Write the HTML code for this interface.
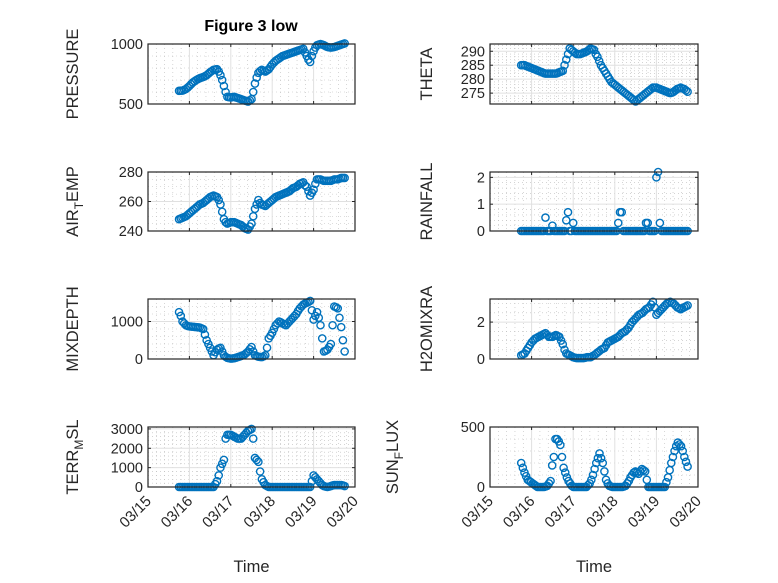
<!DOCTYPE html>
<html><head><meta charset="utf-8"><style>
body{margin:0;background:#fff}
svg{display:block;font-family:"Liberation Sans","DejaVu Sans",sans-serif}
</style></head><body>
<svg id="fig" width="778" height="583" viewBox="0 0 778 583"></svg>
<script>
// hourly samples, start/end in days since 03/15
const tStart=0.75, tEnd=4.75;
const xTickLabels=["03/15","03/16","03/17","03/18","03/19","03/20"];
const pressure=[610,611,612,618,625,637,650,665,680,690,700,708,715,720,725,732,740,752,765,775,785,788,790,770,740,700,650,600,560,557,555,558,560,555,550,545,540,535,530,525,520,530,540,600,670,720,760,775,785,778,770,780,790,810,830,845,860,870,880,890,900,905,910,915,920,925,930,935,940,945,950,955,960,930,900,870,850,900,940,970,990,995,1000,995,990,982,975,972,970,972,975,980,985,990,995,1000,1005];
const airTemp=[248,248.5,249,249.5,250,251,252,253,254,255,256,257,258,258.5,259,260,261,262,263,263.5,264,263.5,263,261,258,253,248,246,245,245.5,246,246,246,245.5,245,244.5,244,243,242,241.5,241,243,245,250,255,258,261,259,258,257.5,257,258,259,260,261,262,263,263.5,264,264.5,265,265.5,266,266.5,267,268,269,269.5,270,271,272,272.5,273,271,270,267,264,266,268,272,275,275,275,274.5,274,274,274,274,274,274.5,275,275,275,275.5,276,276,276];
const theta=[285,285,285,284.7,284.5,284.2,284,283.7,283.5,283.2,283,282.7,282.5,282.2,282,282,282,282,282,282,282,282.2,282.5,282.7,283,285,287,289,291,290.5,290,289.5,289,289,289,289.2,289.5,289.7,290,290.5,291,290.7,290.5,289,288,286.5,285,284,283,282,281,280,279,278.5,278,277.5,277,276.5,276,275.5,275,274.5,274,273.5,273,272.5,272,272.5,273,273.5,274,274.5,275,275.5,276,276.5,277,277,277,276.7,276.5,276.2,276,275.7,275.5,275.2,275,275.2,275.5,276,276.5,276.7,277,276.7,276.5,276,275.5];
const rainfall=[0,0,0,0,0,0,0,0,0,0, 0,0,0,0,0.5,0,0,0,0.2,0, 0,0,0,0,0,0,0.4,0.7,0,0, 0.3,0,0,0,0,0,0,0,0,0, 0,0,0,0,0,0,0,0,0,0, 0,0,0,0,0,0,0.3,0.7,0.7,0, 0,0,0,0,0,0,0,0,0,0, 0,0,0.3,0.3,0,0,0,0,2.0,2.2, 0.3,0,0,0,0,0,0,0,0,0, 0,0,0,0,0,0,0];
const mixDepth=[1250,1150,1000,950,900,880,870,865,860,855,850,845,840,820,800,650,500,400,300,200,100,180,250,280,300,200,100,60,30,20,10,15,20,35,50,65,80,100,120,160,200,260,320,200,100,80,60,55,50,70,100,300,550,620,700,800,900,950,1000,980,950,920,900,950,1000,1050,1100,1150,1200,1280,1350,1400,1450,1480,1500,1520,1550,1300,1050,1150,1250,1100,900,550,200,220,250,320,400,900,1400,1380,1350,1100,850,500,200];
const h2o=[0.2,0.25,0.3,0.45,0.6,0.75,0.9,1.0,1.1,1.15,1.2,1.25,1.3,1.35,1.4,1.3,1.2,1.2,1.2,1.25,1.3,1.25,1.2,1.0,0.8,0.5,0.3,0.25,0.2,0.15,0.1,0.07,0.05,0.05,0.05,0.05,0.05,0.07,0.1,0.1,0.1,0.15,0.2,0.27,0.35,0.42,0.5,0.55,0.6,0.75,0.9,0.95,1.0,1.05,1.1,1.15,1.2,1.3,1.4,1.45,1.5,1.6,1.7,1.85,2.0,2.1,2.2,2.3,2.4,2.45,2.5,2.6,2.7,2.75,2.8,2.95,3.1,2.8,2.4,2.5,2.6,2.7,2.8,2.9,3.0,3.05,3.1,3.05,3.0,2.9,2.8,2.75,2.7,2.75,2.8,2.85,2.9];
const terrMsl=[0,0,0,0,0,0,0,0,0,0,0,0,0,0,0,0,0,0,0,0,0,150,300,600,1000,1200,1400,2500,2700,2700,2700,2650,2600,2550,2500,2500,2500,2600,2700,2800,2900,2950,3000,2500,1500,1400,1300,800,400,250,100,50,0,0,0,0,0,0,0,0,0,0,0,0,0,0,0,0,0,0,0,0,0,0,0,0,0,300,600,500,400,300,200,100,50,20,0,20,50,80,100,100,100,100,100,80,50];
const sunFlux=[200,160,120,90,60,50,40,30,20,10,0,0,0,0,0,5,10,30,50,180,250,400,400,380,350,250,160,120,80,50,30,10,0,0,0,0,0,0,0,0,0,15,30,60,100,150,200,240,280,240,200,130,60,30,10,5,0,0,0,0,0,0,0,5,10,30,50,80,100,120,130,120,110,130,150,140,130,60,0,0,0,0,0,0,0,0,0,0,0,40,80,140,200,250,300,340,370,355,340,300,250,210,170];

const NS="http://www.w3.org/2000/svg";
const svg=document.getElementById('fig');
function mk(tag,attrs,parent){const e=document.createElementNS(NS,tag);for(const k in attrs)e.setAttribute(k,attrs[k]);(parent||svg).appendChild(e);return e;}

const panels=[
 {name:'pressure',vals:pressure,x0:148,x1:355,y0:44,y1:104,ymin:500,ymax:1000,ticks:[500,1000],minor:100,label:'PRESSURE',lx:78},
 {name:'theta',vals:theta,x0:490,x1:698,y0:44,y1:104,ymin:271.1,ymax:292.6,ticks:[275,280,285,290],minor:1,label:'THETA',lx:432},
 {name:'air-temp',vals:airTemp,x0:148,x1:355,y0:172,y1:231,ymin:240,ymax:280,ticks:[240,260,280],minor:5,label:'AIR_TEMP',sub:'T',lx:78},
 {name:'rainfall',vals:rainfall,x0:490,x1:698,y0:172,y1:231,ymin:0,ymax:2.2,ticks:[0,1,2],minor:0.2,label:'RAINFALL',lx:432},
 {name:'mixdepth',vals:mixDepth,x0:148,x1:355,y0:299,y1:359,ymin:0,ymax:1600,ticks:[0,1000],minor:200,label:'MIXDEPTH',lx:78},
 {name:'h2omixra',vals:h2o,x0:490,x1:698,y0:299,y1:359,ymin:0,ymax:3.25,ticks:[0,2],minor:0.5,label:'H2OMIXRA',lx:432},
 {name:'terr-msl',vals:terrMsl,x0:148,x1:355,y0:427,y1:487,ymin:0,ymax:3100,ticks:[0,1000,2000,3000],minor:200,label:'TERR_MSL',sub:'M',lx:78,xl:true},
 {name:'sun-flux',vals:sunFlux,x0:490,x1:698,y0:427,y1:487,ymin:0,ymax:500,ticks:[0,500],minor:100,label:'SUN_FLUX',sub:'F',lx:398,xl:true}
];

panels.forEach(p=>{
 const g=mk('g',{});
 
 
 const xs=d=>p.x0+(d/5)*(p.x1-p.x0);
 const ys=v=>p.y1-(v-p.ymin)/(p.ymax-p.ymin)*(p.y1-p.y0);
 mk('rect',{x:p.x0,y:p.y0,width:p.x1-p.x0,height:p.y1-p.y0,fill:'#fff'},g);
 for(let d=0;d<5;d+=0.2){if(Math.abs(d-Math.round(d))<1e-6)continue;const x=xs(d);mk('line',{x1:x,x2:x,y1:p.y0,y2:p.y1,stroke:'#bbb','stroke-width':0.6,'stroke-dasharray':'1,3'},g);}
 for(let v=Math.ceil(p.ymin/p.minor)*p.minor;v<p.ymax;v+=p.minor){if(p.ticks.some(t=>Math.abs(t-v)<1e-6))continue;const y=ys(v);mk('line',{x1:p.x0,x2:p.x1,y1:y,y2:y,stroke:'#bbb','stroke-width':0.6,'stroke-dasharray':'1,3'},g);}
 for(let d=1;d<5;d++){const x=xs(d);mk('line',{x1:x,x2:x,y1:p.y0,y2:p.y1,stroke:'#e0e0e0','stroke-width':1},g);}
 p.ticks.forEach(t=>{const y=ys(t);mk('line',{x1:p.x0,x2:p.x1,y1:y,y2:y,stroke:'#e0e0e0','stroke-width':1},g);
   const tl=mk('text',{x:p.x0-5,y:y+5,'text-anchor':'end','font-size':14.5,fill:'#262626'},g);tl.textContent=t;
   
   
   mk('line',{x1:p.x0,x2:p.x0+3,y1:y,y2:y,stroke:'#262626'},g);mk('line',{x1:p.x1,x2:p.x1-3,y1:y,y2:y,stroke:'#262626'},g);});
 for(let d=0;d<=5;d++){const x=xs(d);mk('line',{x1:x,x2:x,y1:p.y1,y2:p.y1-3,stroke:'#262626'},g);mk('line',{x1:x,x2:x,y1:p.y0,y2:p.y0+3,stroke:'#262626'},g);
   if(p.xl){const tl=mk('text',{x:x+4,y:p.y1+15,'text-anchor':'end','font-size':15,fill:'#262626',transform:`rotate(-45 ${x+4} ${p.y1+15})`},g);tl.textContent=xTickLabels[d];
   
   }}
 const n=p.vals.length;
 p.vals.forEach((v,i)=>{const t=tStart+i*(tEnd-tStart)/(n-1);
   const c=mk('circle',{cx:xs(t),cy:ys(v),r:3.6,fill:'none',stroke:'#0072BD','stroke-width':1.4},g);
   
   });
 mk('rect',{x:p.x0,y:p.y0,width:p.x1-p.x0,height:p.y1-p.y0,fill:'none',stroke:'#262626','stroke-width':1.2},g);
 const cy=(p.y0+p.y1)/2;
 const yl=mk('text',{x:p.lx,y:cy,'text-anchor':'middle','font-size':16.5,fill:'#262626',transform:`rotate(-90 ${p.lx} ${cy})`},g);
 
 
 if(p.sub){const parts=p.label.split('_');const a=mk('tspan',{},yl);a.textContent=parts[0];const s=mk('tspan',{dy:5,'font-size':12},yl);s.textContent=p.sub;const b=mk('tspan',{dy:-5},yl);b.textContent=parts[1].slice(1);}
 else yl.textContent=p.label;
 if(p.xl){const xt=mk('text',{x:(p.x0+p.x1)/2,y:572,'text-anchor':'middle','font-size':16.5,fill:'#262626'},g);xt.textContent='Time';
   
   }
});
const title=mk('text',{x:251,y:31,'text-anchor':'middle','font-size':16,'font-weight':'bold',fill:'#000'});
title.textContent='Figure 3 low';


</script>
</body></html>
